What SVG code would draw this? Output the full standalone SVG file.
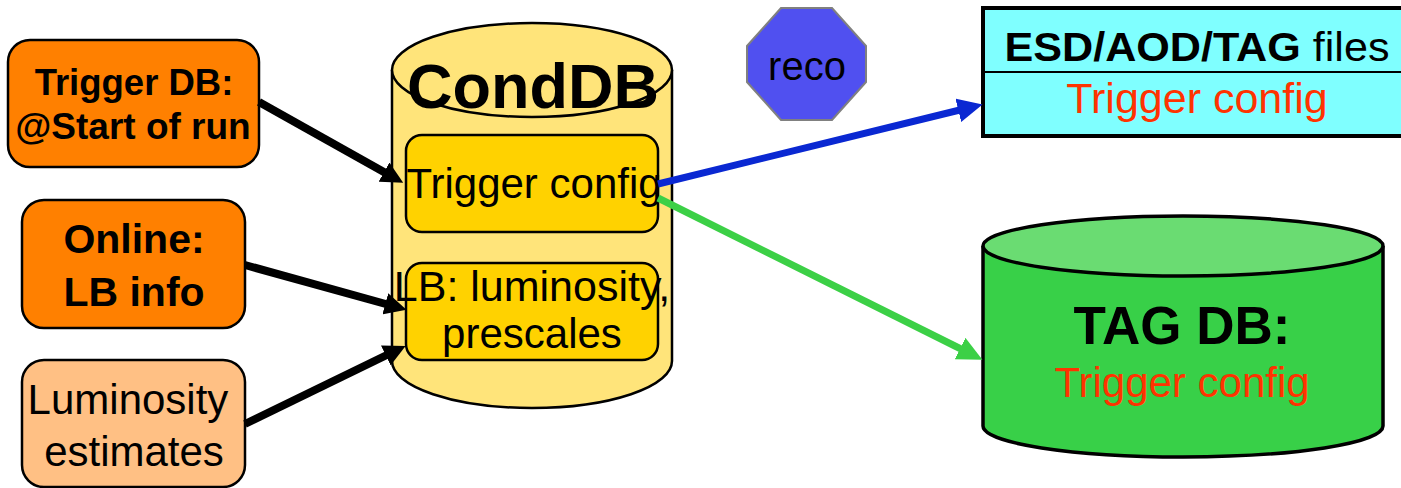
<svg xmlns="http://www.w3.org/2000/svg" width="1401" height="488" viewBox="0 0 1401 488">
<style>
text { font-family: "Liberation Sans", Arial, sans-serif; text-anchor: middle; }
.b { font-weight: bold; }
.src { stroke: #000; stroke-width: 2.5; }
.dark { fill: #FF8000; }
.light { fill: #FFC084; }
.cyl { fill: #FFE47A; stroke: #000; stroke-width: 2.5; }
.inner { fill: #FFD200; stroke: #000; stroke-width: 2.5; }
.red { fill: #FF3300; }
.conn { fill: none; stroke-linecap: butt; }
</style>
<defs>
<marker id="hk" markerUnits="userSpaceOnUse" markerWidth="24" markerHeight="22" refX="8" refY="11" orient="auto">
<path d="M0,0 L22,11 L0,22 Z" fill="#000"/>
</marker>
<marker id="hb" markerUnits="userSpaceOnUse" markerWidth="26" markerHeight="24" refX="10" refY="12" orient="auto">
<path d="M0,0 L25,12 L0,24 Z" fill="#0A28D2"/>
</marker>
<marker id="hg" markerUnits="userSpaceOnUse" markerWidth="26" markerHeight="24" refX="10" refY="12" orient="auto">
<path d="M0,0 L25,12 L0,24 Z" fill="#3CD046"/>
</marker>
</defs>

<g id="condDB">
<path class="cyl" d="M392,70 L392,361 A140,47 0 0 0 672,361 L672,70"/>
<ellipse class="cyl" cx="532" cy="70" rx="140" ry="47"/>
<text class="b" x="533" y="108" font-size="63">CondDB</text>
</g>
<g id="triggerConfig">
<rect class="inner" x="406" y="135" width="252" height="97" rx="16"/>
<text x="534" y="198" font-size="42">Trigger config</text>
</g>
<g id="lbInfo">
<rect class="inner" x="406" y="263" width="252" height="97" rx="16"/>
<text x="532" y="301" font-size="43">LB: luminosity,</text>
<text x="532" y="348" font-size="42">prescales</text>
</g>

<g id="triggerDB">
<rect class="src dark" x="8" y="40" width="251" height="127" rx="22"/>
<text class="b" x="134" y="95" font-size="36.5">Trigger DB:</text>
<text class="b" x="133" y="139" font-size="37">@Start of run</text>
</g>
<g id="online">
<rect class="src dark" x="22" y="200" width="223" height="128" rx="22"/>
<text class="b" x="134" y="253" font-size="41">Online:</text>
<text class="b" x="134" y="306" font-size="41">LB info</text>
</g>
<g id="lumiEst">
<rect class="src light" x="22" y="360" width="223" height="127" rx="22"/>
<text x="128" y="414" font-size="42">Luminosity</text>
<text x="134" y="466" font-size="42">estimates</text>
</g>

<g id="reco">
<polygon points="781,8 832,8 866,46 866,82 832,120 781,120 747,82 747,46" fill="#5050F0" stroke="#808080" stroke-width="2"/>
<text x="807" y="80" font-size="40">reco</text>
</g>

<g id="esdFiles">
<rect x="983" y="8" width="430" height="128" fill="#7FFFFF" stroke="#000" stroke-width="4"/>
<line x1="983" y1="72" x2="1401" y2="72" stroke="#000" stroke-width="2"/>
<text x="1197" y="61" font-size="41" textLength="385" lengthAdjust="spacingAndGlyphs"><tspan class="b">ESD/AOD/TAG</tspan> files</text>
<text class="red" x="1197" y="113" font-size="43">Trigger config</text>
</g>

<g id="tagDB">
<path d="M983,246 L983,426 A200,31 0 0 0 1383,426 L1383,246" fill="#38D048" stroke="#000" stroke-width="3.5"/>
<ellipse cx="1183" cy="246" rx="200" ry="30" fill="#6ADC72" stroke="#000" stroke-width="3.5"/>
<text class="b" x="1182" y="344" font-size="53">TAG DB:</text>
<text class="red" x="1182" y="397" font-size="42">Trigger config</text>
</g>

<g id="connectors">
<line class="conn" x1="259" y1="102" x2="391" y2="176" stroke="#000" stroke-width="8" marker-end="url(#hk)"/>
<line class="conn" x1="245" y1="265" x2="393" y2="306" stroke="#000" stroke-width="8" marker-end="url(#hk)"/>
<line class="conn" x1="245" y1="424" x2="393" y2="352" stroke="#000" stroke-width="8" marker-end="url(#hk)"/>
<line class="conn" x1="658" y1="184" x2="968" y2="108" stroke="#0A28D2" stroke-width="7" marker-end="url(#hb)"/>
<line class="conn" x1="658" y1="198" x2="969" y2="353" stroke="#3CD046" stroke-width="7" marker-end="url(#hg)"/>
</g>
</svg>
